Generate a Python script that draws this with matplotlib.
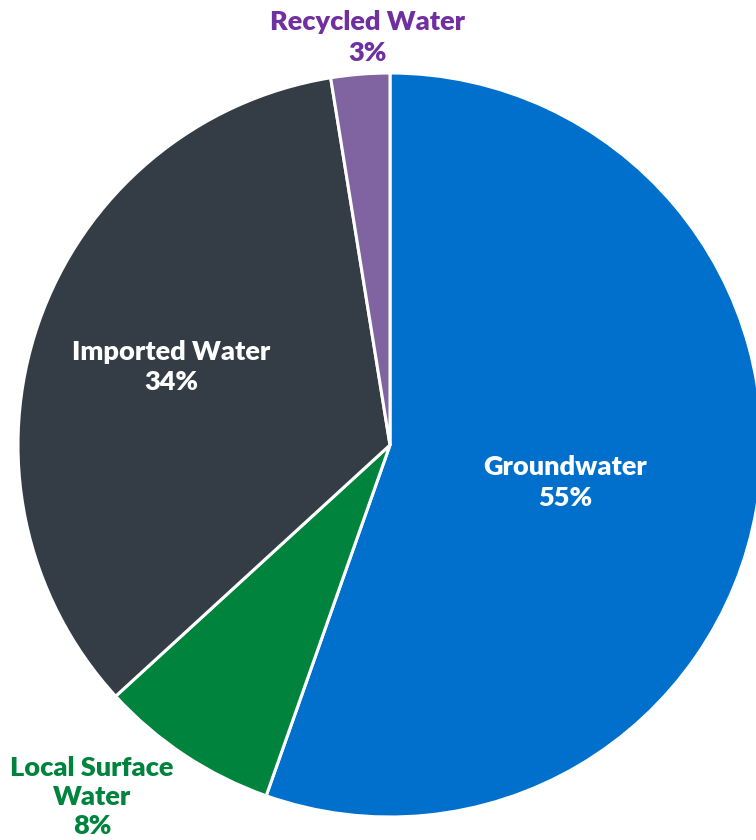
import matplotlib
matplotlib.use("Agg")
import matplotlib.pyplot as plt

categories = ["Groundwater", "Local Surface\nWater", "Imported Water", "Recycled Water"]
values = [55.4, 7.8, 34.25, 2.55]
colors = ["#0070CC", "#00843D", "#343D46", "#8064A2"]

W, H = 756, 840
fig = plt.figure(figsize=(W / 100, H / 100), dpi=100)
ax = fig.add_axes([0, 0, 1, 1])

cx, cy, r = 390, H - 445, 372
ax.pie(values, colors=colors, startangle=90, counterclock=False,
       center=(cx, cy), radius=r, frame=True,
       wedgeprops=dict(edgecolor="white", linewidth=2.2))
ax.set_xlim(0, W)
ax.set_ylim(0, H)
ax.axis("off")

font = dict(family=["Lato", "DejaVu Sans"], fontweight="heavy", fontsize=19.5,
            ha="center", va="center")

def lab(x, y, s, c):
    ax.text(x, H - y, s, color=c, **font)

lab(565, 467, "Groundwater", "white")
lab(565, 498, f"{round(values[0])}%", "white")
lab(171, 352, "Imported Water", "white")
lab(171, 382, f"{round(values[2])}%", "white")
lab(368, 22, "Recycled Water", "#7030A0")
lab(368, 53, f"{round(values[3])}%", "#7030A0")
lab(92, 768, "Local Surface", "#00843D")
lab(92, 797, "Water", "#00843D")
lab(92, 826, f"{round(values[1])}%", "#00843D")

fig.savefig("out.png", dpi=100)
